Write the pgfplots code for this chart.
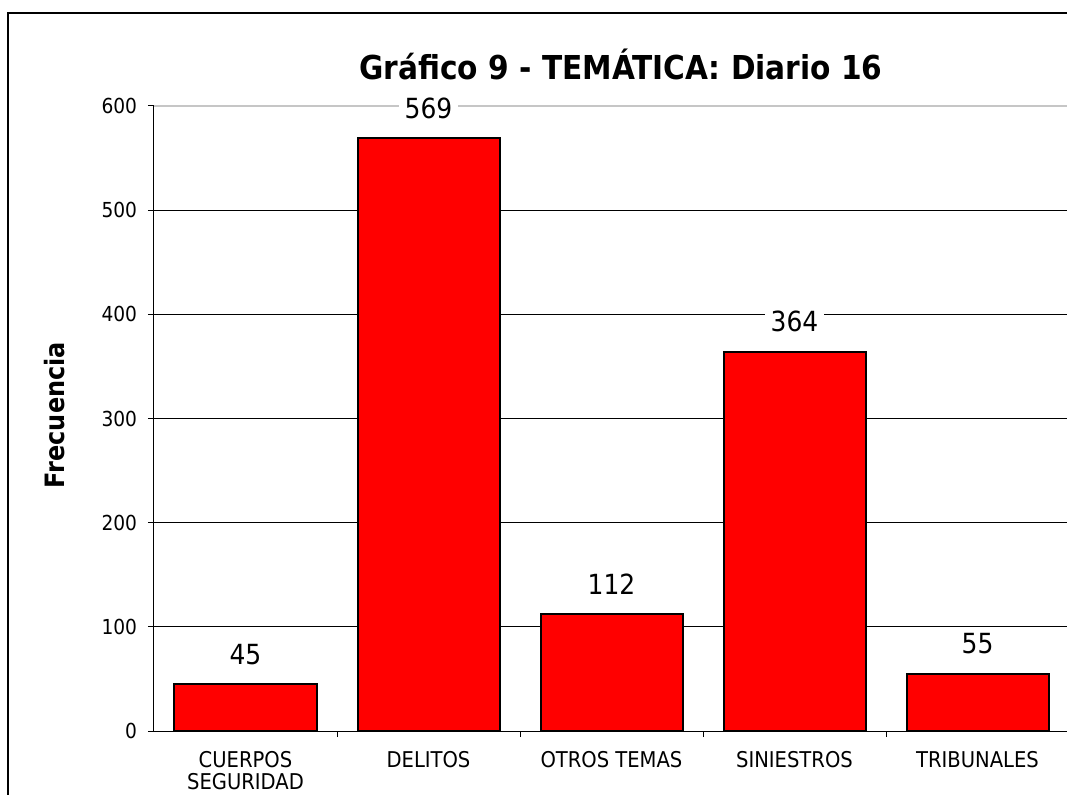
\documentclass[border=0pt]{standalone}
\usepackage{pgfplots}
\pgfplotsset{compat=1.18}
\usepackage{fontspec}
\setmainfont{DejaVu Sans Condensed}

\begin{document}
\begin{tikzpicture}
% 1 px of the reference = 0.75pt; plot area lower left at (0,0)
\useasboundingbox (-115.5pt,-47.25pt) rectangle (684.75pt,548.25pt);
\begin{axis}[
  at={(0pt,0pt)}, anchor=south west,
  scale only axis, width=686.25pt, height=468.75pt,
  clip=false,
  xmin=-0.5, xmax=4.5, ymin=0, ymax=600,
  ybar, bar width=106.5pt, bar shift=0pt,
  axis x line*=bottom, axis y line*=left,
  axis line style={black, line width=0.75pt, -},
  tick align=outside, major tick length=4.5pt,
  tick style={black, line width=0.75pt},
  ytick={0,100,...,600},
  ymajorgrids, major grid style={black, line width=0.75pt},
  xtick={0.5,1.5,2.5,3.5},
  xticklabels={},
  extra x ticks={0,1,2,3,4},
  extra x tick labels={{CUERPOS\\SEGURIDAD},DELITOS,{OTROS TEMAS},SINIESTROS,TRIBUNALES},
  extra x tick style={major tick length=0pt, tick style={draw=none}},
  /pgf/number format/assume math mode=true,
  yticklabel style={font=\fontsize{15.5}{18}\selectfont, inner sep=0pt, xshift=-8pt},
  xticklabel style={font=\fontsize{16.3}{16.3}\selectfont, align=center, inner sep=0pt, yshift=-15pt},
  nodes near coords,
  every node near coord/.append style={font=\fontsize{20.8}{24}\selectfont, fill=white,
    inner xsep=4.5pt, inner ysep=1pt, anchor=south, yshift=13pt},
]
\draw[gray!45, line width=1pt] (rel axis cs:0,1) -- (rel axis cs:1.01,1);
\addplot[draw=black, line width=1.5pt, fill=red] coordinates {(0,45) (1,569) (2,112) (3,364) (4,55)};
\end{axis}
\node[font=\fontsize{24.7}{28}\selectfont\bfseries] at (350.25pt,500pt) {Gráfico 9 - TEMÁTICA: Diario 16};
\node[font=\fontsize{20}{24}\selectfont\bfseries, rotate=90] at (-74.25pt,237pt) {Frecuencia};
\draw[black, line width=1pt] (-109.5pt,-60pt) -- (-109.5pt,538.5pt) -- (700pt,538.5pt);
\end{tikzpicture}
\end{document}
